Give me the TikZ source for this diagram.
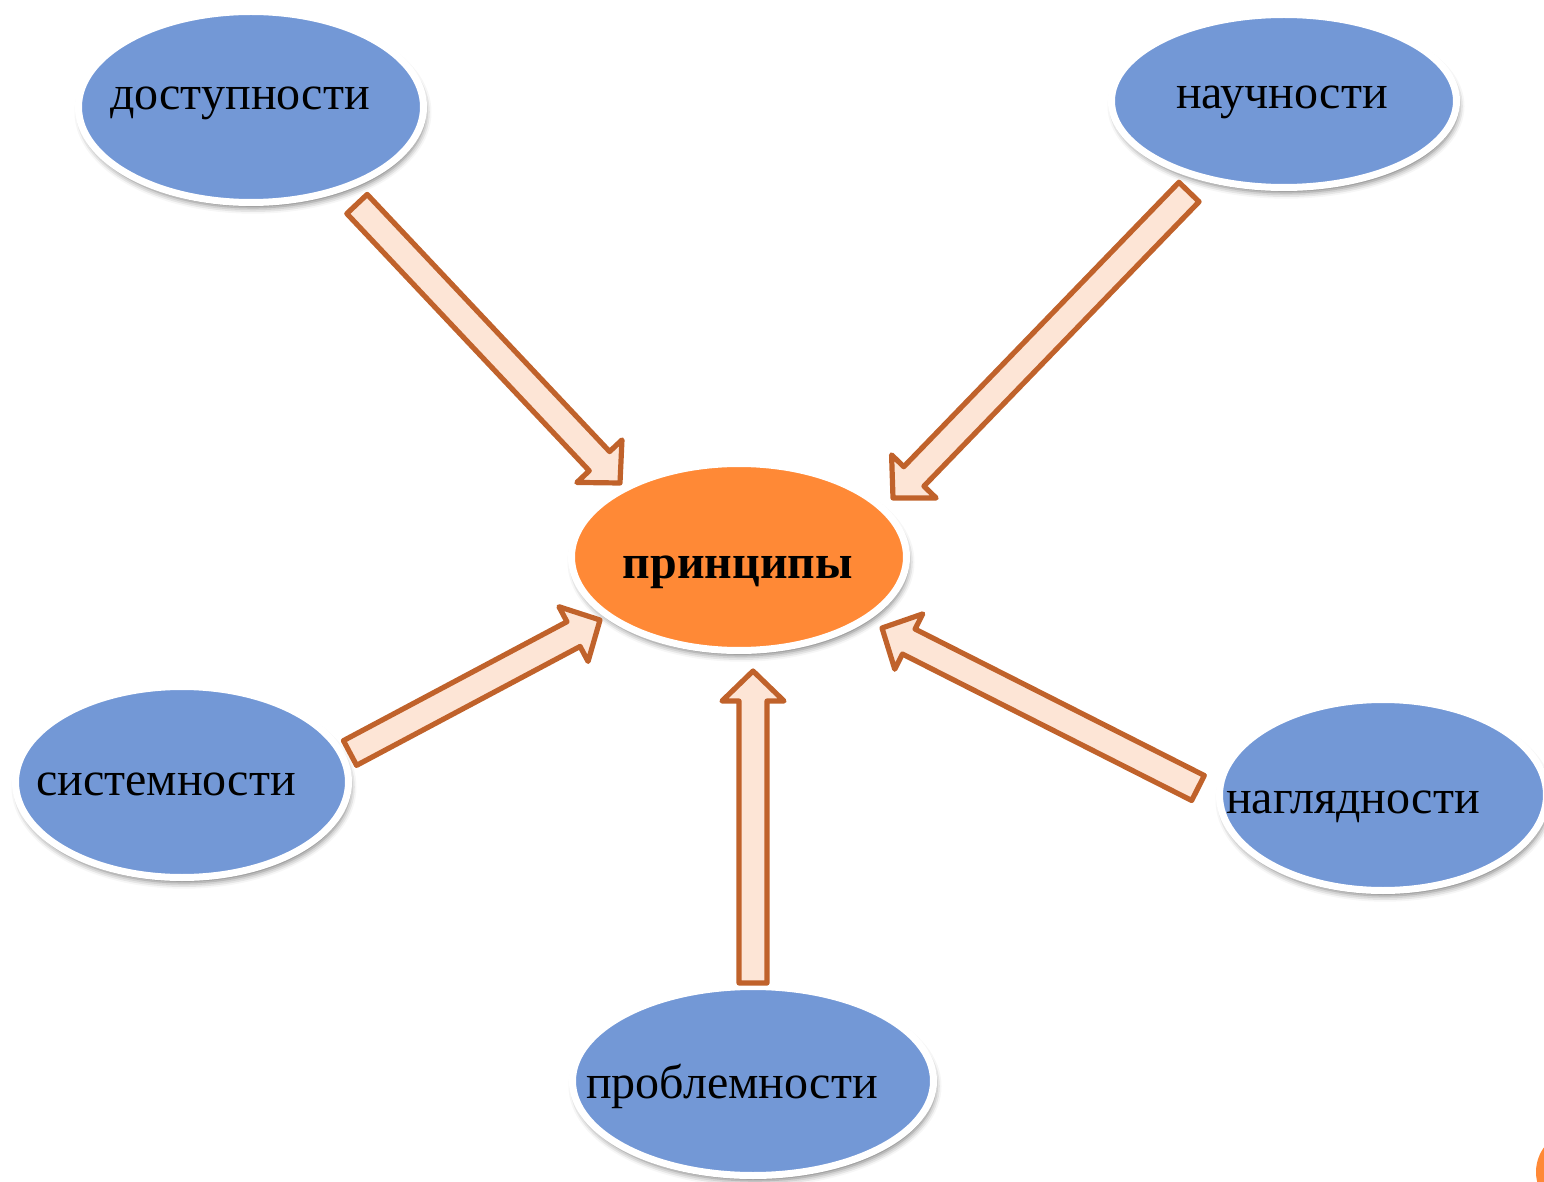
\documentclass[tikz,border=0pt]{standalone}
\usepackage{fontspec}
\setmainfont{Liberation Serif}
\usetikzlibrary{shapes.geometric,calc,shadows.blur}
\definecolor{bubbleblue}{RGB}{115,152,214}
\definecolor{bubbleorange}{RGB}{255,137,54}
\definecolor{arrline}{RGB}{192,98,43}
\definecolor{arrfill}{RGB}{253,229,214}
\newcommand\arrsw{7pt}
\newcommand\arrhl{15pt}
\newcommand\arrhw{15.5pt}
\newcommand\blockarr[2]{%
\draw[barr] ($(#1)!\arrsw!90:(#2)$)
 -- ($($(#2)!\arrhl!(#1)$)!\arrsw!90:(#2)$)
 -- ($($(#2)!\arrhl!(#1)$)!\arrhw!90:(#2)$)
 -- (#2)
 -- ($($(#2)!\arrhl!(#1)$)!\arrhw!-90:(#2)$)
 -- ($($(#2)!\arrhl!(#1)$)!\arrsw!-90:(#2)$)
 -- ($(#1)!\arrsw!-90:(#2)$) -- cycle;}
\tikzset{
  bubble/.style={ellipse, draw=white, line width=3.5pt, fill=bubbleblue,
    inner sep=0pt, outer sep=0pt,
    blur shadow={shadow xshift=1pt, shadow yshift=-2.6pt, shadow blur radius=3pt, shadow opacity=55}},
  centre/.style={bubble, fill=bubbleorange},
  lbl/.style={anchor=base, inner sep=0pt, font=\fontsize{24}{28}\selectfont},
  barr/.style={draw=arrline, fill=arrfill, line width=2.6pt, line join=round},
}
\begin{document}
\begin{tikzpicture}[x=0.5pt, y=-0.5pt]
\useasboundingbox (0,0) rectangle (1544,1182);
\clip (0,0) rectangle (1544,1182);
% bubbles
\node[bubble, minimum width=172.5pt, minimum height=95.5pt] (dost) at (251,107) {};
\node[bubble, minimum width=172.5pt, minimum height=86.5pt] (nauch) at (1284,101) {};
\node[centre, minimum width=167.5pt, minimum height=93.5pt] (princ) at (739,557) {};
\node[bubble, minimum width=166.5pt, minimum height=95.5pt] (sist) at (182,782) {};
\node[bubble, minimum width=163.5pt, minimum height=95.5pt] (nagl) at (1383,795) {};
\node[bubble, minimum width=180.5pt, minimum height=94.5pt] (probl) at (753,1081) {};
\fill[bubbleorange] (1578,1172) circle[radius=42] coordinate (corner);
% labels
\node[lbl] (dostT) at (240,110) {доступности};
\node[lbl] (nauchT) at (1282,109) {научности};
\node[lbl, font=\fontsize{24}{28}\selectfont\bfseries] (princT) at (738,578) {принципы};
\node[lbl] (sistT) at (166,795) {системности};
\node[lbl] (naglT) at (1353,813) {наглядности};
\node[lbl] (problT) at (732,1098) {проблемности};
% arrow end points
\coordinate (a1s) at (357,204);  \coordinate (a1e) at (620,483);
\coordinate (a2s) at (1189,192); \coordinate (a2e) at (893,498);
\coordinate (a3s) at (350,753);  \coordinate (a3e) at (600,620);
\coordinate (a4s) at (753,983);  \coordinate (a4e) at (753,671);
\coordinate (a5s) at (1198,788); \coordinate (a5e) at (882,628);
\blockarr{a1s}{a1e}
\blockarr{a2s}{a2e}
\blockarr{a3s}{a3e}
\blockarr{a4s}{a4e}
\blockarr{a5s}{a5e}
\end{tikzpicture}
\end{document}
